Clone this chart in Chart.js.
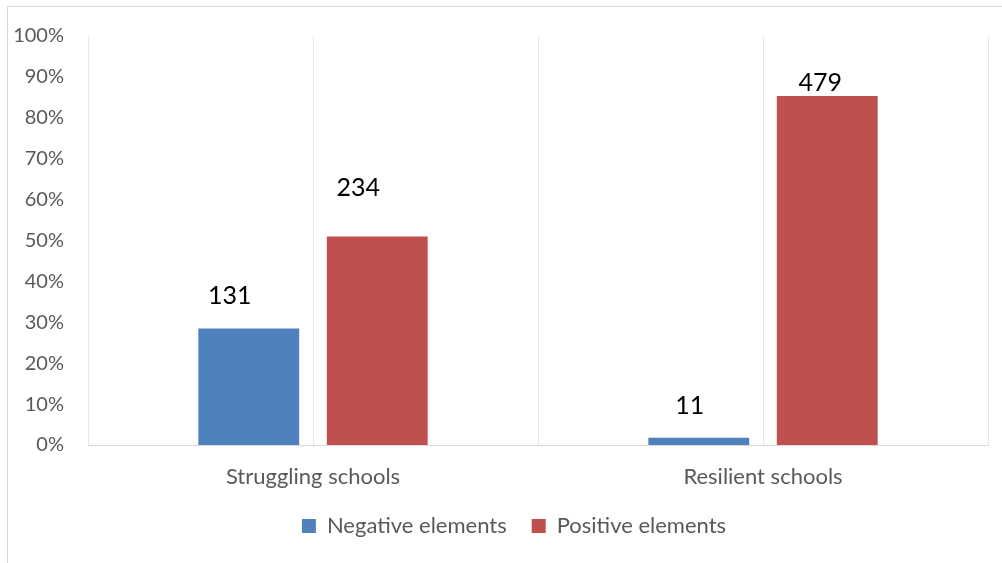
<!DOCTYPE html>
<html>
<head>
<meta charset="utf-8">
<script src="https://cdn.jsdelivr.net/npm/chart.js@4.4.0/dist/chart.umd.min.js"></script>
<style>
  html, body { margin: 0; padding: 0; background: #ffffff; }
  #wrap { position: relative; width: 1002px; height: 563px; }
</style>
</head>
<body>
<div id="wrap"><canvas id="c" width="1002" height="563"></canvas></div>
<script>
// ---- data ----
const categories = ['Struggling schools', 'Resilient schools'];
const seriesNames = ['Negative elements', 'Positive elements'];
const negativeShare = [0.285, 0.018];
const positiveShare = [0.510, 0.853];
const negativeCounts = ['131', '11'];
const positiveCounts = ['234', '479'];
const yTickLabels = ['0%', '10%', '20%', '30%', '40%', '50%', '60%', '70%', '80%', '90%', '100%'];

// ---- styles ----
const colors = ['#4f81bd', '#c0504d'];
const labelShift = [ // [dx, gap above bar] per dataset, per category
  [[-19, 24], [-9, 24]],
  [[-19, 40], [-7, 5]]
];
const FONT = 'Lato, "Open Sans", "DejaVu Sans", sans-serif';
const LEGEND_SHIFT = 20;

const framePlugin = {
  id: 'frame',
  afterLayout(chart) {
    if (chart.legend) {
      chart.legend.left += LEGEND_SHIFT;
      chart.legend.right += LEGEND_SHIFT;
    }
  },
  beforeDraw(chart) {
    const ctx = chart.ctx;
    ctx.save();
    ctx.strokeStyle = '#d9d9d9';
    ctx.lineWidth = 1;
    ctx.beginPath();
    ctx.moveTo(7.5, 563);
    ctx.lineTo(7.5, 6.5);
    ctx.lineTo(1002, 6.5);
    ctx.stroke();
    ctx.restore();
  }
};

const centerLines = {
  id: 'centerLines',
  beforeDatasetsDraw(chart) {
    const x = chart.scales.x, a = chart.chartArea, ctx = chart.ctx;
    ctx.save();
    ctx.strokeStyle = '#e8e8e8';
    ctx.lineWidth = 1;
    categories.forEach((c, i) => {
      const px = Math.round(x.getPixelForValue(i)) + 0.5;
      ctx.beginPath();
      ctx.moveTo(px, a.top);
      ctx.lineTo(px, a.bottom);
      ctx.stroke();
    });
    ctx.restore();
  }
};

const valueLabels = {
  id: 'valueLabels',
  afterDatasetsDraw(chart) {
    const ctx = chart.ctx;
    ctx.save();
    ctx.font = '25px ' + FONT;
    ctx.fillStyle = '#000000';
    ctx.textAlign = 'center';
    ctx.textBaseline = 'alphabetic';
    const texts = [negativeCounts, positiveCounts];
    chart.data.datasets.forEach((ds, di) => {
      chart.getDatasetMeta(di).data.forEach((bar, i) => {
        const [dx, gap] = labelShift[di][i];
        ctx.fillText(texts[di][i], bar.x + dx, bar.y - gap);
      });
    });
    ctx.restore();
  }
};

new Chart(document.getElementById('c'), {
  type: 'bar',
  data: {
    labels: categories,
    datasets: [
      { label: seriesNames[0], data: negativeShare, backgroundColor: colors[0] },
      { label: seriesNames[1], data: positiveShare, backgroundColor: colors[1] }
    ]
  },
  options: {
    responsive: false,
    animation: false,
    layout: { padding: { top: 35, right: 14, left: 0, bottom: 16 } },
    datasets: { bar: { categoryPercentage: 0.571, barPercentage: 0.785 } },
    scales: {
      x: {
        grid: { color: '#e8e8e8', offset: true, drawTicks: false },
        border: { color: '#d9d9d9', width: 1 },
        ticks: { color: '#595959', font: { size: 22, family: FONT }, padding: 19 },
        afterFit(s) { s.height = 45; }
      },
      y: {
        min: 0, max: 1,
        grid: { display: false, drawTicks: false },
        border: { display: false },
        ticks: {
          stepSize: 0.1,
          color: '#595959',
          font: { size: 20, family: FONT },
          padding: 24,
          callback: (v, i) => yTickLabels[i]
        },
        afterFit(s) { s.width = 88; }
      }
    },
    plugins: {
      tooltip: { enabled: false },
      legend: {
        position: 'bottom',
        labels: {
          color: '#595959',
          font: { size: 22, family: FONT },
          boxWidth: 14, boxHeight: 14,
          padding: 25
        }
      }
    }
  },
  plugins: [framePlugin, centerLines, valueLabels]
});
</script>
</body>
</html>
